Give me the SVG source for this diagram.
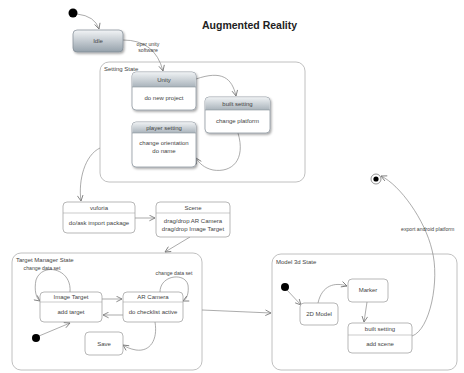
<svg xmlns="http://www.w3.org/2000/svg" width="464" height="373" viewBox="0 0 464 373">
<defs>
<linearGradient id="hg" x1="0" y1="0" x2="0" y2="1">
<stop offset="0" stop-color="#eef1f3"/>
<stop offset="1" stop-color="#a9b3bb"/>
</linearGradient>
<linearGradient id="ig" x1="0" y1="0" x2="0" y2="1">
<stop offset="0" stop-color="#f2f4f6"/>
<stop offset="1" stop-color="#95a1ab"/>
</linearGradient>
<filter id="sh" x="-20%" y="-20%" width="150%" height="150%">
<feDropShadow dx="1.2" dy="1.5" stdDeviation="1" flood-color="#000" flood-opacity="0.35"/>
</filter>
<marker id="ar" viewBox="0 0 10 10" refX="9" refY="5" markerWidth="7" markerHeight="7" orient="auto" markerUnits="userSpaceOnUse">
<path d="M1,1 L9,5 L1,9" fill="none" stroke="#777" stroke-width="1.2"/>
</marker>
</defs>
<style>
text{font-family:"Liberation Sans",Arial,sans-serif;fill:#444;font-size:6px}
.m{text-anchor:middle}
.t{font-size:10.5px;font-weight:bold;fill:#222}
.lbl{font-size:5.2px;fill:#444}
.cont{fill:#fff;stroke:#b0b0b0;stroke-width:0.8}
.st{fill:#fff;stroke:#9a9a9a;stroke-width:0.7}
.gs{fill:#fff;stroke:#7f8a93;stroke-width:0.7;filter:url(#sh)}
.hd{fill:url(#hg);stroke:none}
.sep{stroke:#8a949c;stroke-width:0.6}
.sep2{stroke:#aaa;stroke-width:0.6}
.e{fill:none;stroke:#888;stroke-width:0.7;marker-end:url(#ar)}
</style>
<rect width="464" height="373" fill="#fff"/>
<text class="t" x="202" y="29">Augmented Reality</text>

<g id="setting-state">
<rect class="cont" x="100" y="62" width="205" height="120" rx="9"/>
<text x="104" y="70.5">Setting State</text>
</g>
<g id="target-manager-state">
<rect class="cont" x="12" y="253" width="190" height="117" rx="9"/>
<text x="16" y="261.5">Target Manager State</text>
</g>
<g id="model-3d-state">
<rect class="cont" x="272" y="254" width="185" height="116" rx="9"/>
<text x="276" y="264">Model 3d State</text>
</g>

<g id="connectors">
<path class="e" d="M77,14 Q95,16 99,29"/>
<path class="e" d="M123,40 Q155,40 163,71"/>
<path class="e" d="M196,79 C222,70 232,78 236,96"/>
<path class="e" d="M238,133 C246,160 232,173 213,170 C204,168 199,163 196,158"/>
<path class="e" d="M100,148 C85,155 78,180 81,201"/>
<path class="e" d="M135,218 L155,218"/>
<path class="e" d="M190,237 L165,252"/>
<path class="e" d="M70,292 C72,268 42,262 36,280 C34,290 36,298 40,301"/>
<path class="e" d="M160,292 C160,275 185,272 188,285 C189,293 187,299 183,301"/>
<path class="e" d="M102,299 L122,299"/>
<path class="e" d="M123,315 L103,315"/>
<path class="e" d="M39,336 L70,323"/>
<path class="e" d="M155,322 C158,340 150,352 136,350 C130,349 126,347 123,345"/>
<path class="e" d="M202,310 L271,313"/>
<path class="e" d="M287,290 L301,305"/>
<path class="e" d="M318,303 C322,285 335,282 347,286"/>
<path class="e" d="M367,302 L364,322"/>
<path class="e" d="M412,336 C430,330 440,280 432,250 C425,220 400,185 381,176"/>
<text class="lbl m" x="148" y="46">oper unity</text>
<text class="lbl m" x="148" y="52">software</text>
<text class="lbl m" x="42" y="270">change data set</text>
<text class="lbl m" x="174" y="275">change data set</text>
<text class="lbl" x="401" y="231">export android platform</text>
</g>

<g id="init-1"><circle cx="73" cy="13" r="4.5" fill="#000"/></g>
<g id="idle">
<rect x="73" y="30" width="50" height="22" rx="4" fill="url(#ig)" stroke="#7f8a93" stroke-width="0.7" filter="url(#sh)"/>
<text class="m" x="98" y="43">Idle</text>
</g>
<g id="unity">
<rect class="gs" x="132" y="72" width="64" height="38" rx="4"/>
<path class="hd" d="M136,72.4 H192 A3.6,3.6 0 0 1 195.6,76 V87 H132.4 V76 A3.6,3.6 0 0 1 136,72.4 Z"/>
<line class="sep" x1="132" y1="87" x2="196" y2="87"/>
<text class="m" x="164" y="81.5">Unity</text>
<text class="m" x="164" y="99.5">do new project</text>
</g>
<g id="built-setting-1">
<rect class="gs" x="205" y="97" width="65" height="36" rx="4"/>
<path class="hd" d="M209,97.4 H266 A3.6,3.6 0 0 1 269.6,101 V110 H205.4 V101 A3.6,3.6 0 0 1 209,97.4 Z"/>
<line class="sep" x1="205" y1="110" x2="270" y2="110"/>
<text class="m" x="237.5" y="105.5">built setting</text>
<text class="m" x="237.5" y="123">change platform</text>
</g>
<g id="player-setting">
<rect class="gs" x="132" y="122" width="64" height="45" rx="4"/>
<path class="hd" d="M136,122.4 H192 A3.6,3.6 0 0 1 195.6,126 V133 H132.4 V126 A3.6,3.6 0 0 1 136,122.4 Z"/>
<line class="sep" x1="132" y1="133" x2="196" y2="133"/>
<text class="m" x="164" y="130">player setting</text>
<text class="m" x="164" y="145">change orientation</text>
<text class="m" x="164" y="153">do name</text>
</g>
<g id="vuforia">
<rect class="st" x="63" y="202" width="72" height="31" rx="4"/>
<line class="sep2" x1="63" y1="213" x2="135" y2="213"/>
<text class="m" x="99" y="209.5">vuforia</text>
<text class="m" x="99" y="225">do/ask import package</text>
</g>
<g id="scene">
<rect class="st" x="156" y="202" width="74" height="35" rx="4"/>
<line class="sep2" x1="156" y1="213" x2="230" y2="213"/>
<text class="m" x="193" y="209.5">Scene</text>
<text class="m" x="193" y="223">drag/drop AR Camera</text>
<text class="m" x="193" y="231">drag/drop Image Target</text>
</g>
<g id="image-target">
<rect class="st" x="40" y="292" width="62" height="30" rx="4"/>
<line class="sep2" x1="40" y1="302" x2="102" y2="302"/>
<text class="m" x="71" y="299">Image Target</text>
<text class="m" x="71" y="314">add target</text>
</g>
<g id="ar-camera">
<rect class="st" x="123" y="292" width="60" height="30" rx="4"/>
<line class="sep2" x1="123" y1="302" x2="183" y2="302"/>
<text class="m" x="153" y="299">AR Camera</text>
<text class="m" x="153" y="314">do checklist active</text>
</g>
<g id="init-2"><circle cx="36" cy="338" r="4" fill="#000"/></g>
<g id="save">
<rect class="st" x="85" y="332" width="38" height="23" rx="4"/>
<text class="m" x="104" y="345.5">Save</text>
</g>
<g id="init-3"><circle cx="285" cy="287" r="4" fill="#000"/></g>
<g id="model-2d">
<rect class="st" x="300" y="303" width="38" height="22" rx="4"/>
<text class="m" x="319" y="316">2D Model</text>
</g>
<g id="marker">
<rect class="st" x="348" y="279" width="40" height="23" rx="4"/>
<text class="m" x="368" y="292">Marker</text>
</g>
<g id="built-setting-2">
<rect class="st" x="348" y="323" width="64" height="30" rx="4"/>
<line class="sep2" x1="348" y1="335" x2="412" y2="335"/>
<text class="m" x="380" y="331">built setting</text>
<text class="m" x="380" y="346">add scene</text>
</g>
<g id="final">
<circle cx="376" cy="179" r="5" fill="#fff" stroke="#666" stroke-width="0.7"/>
<circle cx="376" cy="179" r="2.6" fill="#000"/>
</g>
</svg>
